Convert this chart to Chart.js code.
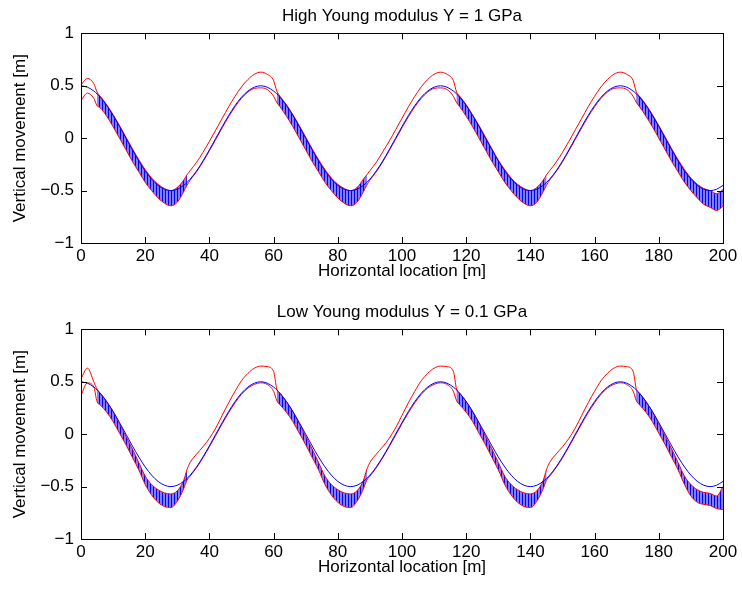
<!DOCTYPE html>
<html>
<head>
<meta charset="utf-8">
<script src="https://cdn.jsdelivr.net/npm/chart.js@4/dist/chart.umd.min.js"></script>
<style>
  body { margin: 0; background: #fff; }
  .panel { position: absolute; left: 0; width: 742px; height: 296px; }
</style>
</head>
<body>
<div class="panel" style="top:0"><canvas id="topChart" width="742" height="296"></canvas></div>
<div class="panel" style="top:296px"><canvas id="lowChart" width="742" height="296"></canvas></div>
<script>
// horizontal location [m]
const xs = [
  0, 2, 4, 5, 6, 8, 10, 12, 14, 16, 18, 20, 22, 24, 26, 28, 30, 32, 33, 34, 36, 38, 40, 42, 44, 46, 48, 50, 52, 54,
  56, 58, 60, 61, 62, 64, 66, 68, 70, 72, 74, 76, 78, 80, 82, 84, 86, 88, 89, 90, 92, 94, 96, 98, 100, 102, 104, 106, 108, 110,
  112, 114, 116, 117, 118, 120, 122, 124, 126, 128, 130, 132, 134, 136, 138, 140, 142, 144, 145, 146, 148, 150, 152, 154, 156, 158, 160, 162, 164, 166,
  168, 170, 172, 173, 174, 176, 178, 180, 182, 184, 186, 188, 190, 192, 194, 196, 198, 200
];

// ground profile (blue), same in both panels
const ground = [
  0.5, 0.487, 0.45, 0.423, 0.391, 0.312, 0.217, 0.111, 0, -0.111, -0.217, -0.312, -0.391, -0.45, -0.487, -0.5, -0.487, -0.45, -0.423, -0.391, -0.312, -0.217, -0.111, 0, 0.111, 0.217, 0.312, 0.391, 0.45, 0.487,
  0.5, 0.487, 0.45, 0.423, 0.391, 0.312, 0.217, 0.111, 0, -0.111, -0.217, -0.312, -0.391, -0.45, -0.487, -0.5, -0.487, -0.45, -0.423, -0.391, -0.312, -0.217, -0.111, 0, 0.111, 0.217, 0.312, 0.391, 0.45, 0.487,
  0.5, 0.487, 0.45, 0.423, 0.391, 0.312, 0.217, 0.111, 0, -0.111, -0.217, -0.312, -0.391, -0.45, -0.487, -0.5, -0.487, -0.45, -0.423, -0.391, -0.312, -0.217, -0.111, 0, 0.111, 0.217, 0.312, 0.391, 0.45, 0.487,
  0.5, 0.487, 0.45, 0.423, 0.391, 0.312, 0.217, 0.111, 0, -0.111, -0.217, -0.312, -0.391, -0.45, -0.487, -0.5, -0.487, -0.45
];

// Y = 1 GPa : upper and lower red curves
const highUpper = [
  0.51, 0.57, 0.52, 0.44, 0.40, 0.32, 0.225, 0.12, 0.01, -0.10, -0.205, -0.30, -0.38, -0.44, -0.48, -0.50, -0.47, -0.40, -0.35, -0.31, -0.23, -0.135, -0.03, 0.08, 0.19, 0.30, 0.40, 0.49, 0.56, 0.61,
  0.63, 0.61, 0.55, 0.45, 0.40, 0.32, 0.225, 0.12, 0.01, -0.10, -0.205, -0.30, -0.38, -0.44, -0.48, -0.50, -0.47, -0.39, -0.35, -0.31, -0.23, -0.13, -0.03, 0.08, 0.19, 0.30, 0.40, 0.49, 0.56, 0.61,
  0.63, 0.61, 0.55, 0.44, 0.40, 0.32, 0.22, 0.12, 0.01, -0.10, -0.21, -0.30, -0.38, -0.44, -0.48, -0.50, -0.47, -0.40, -0.35, -0.31, -0.23, -0.135, -0.03, 0.08, 0.19, 0.30, 0.40, 0.49, 0.56, 0.61,
  0.63, 0.61, 0.55, 0.44, 0.40, 0.32, 0.225, 0.12, 0.01, -0.10, -0.205, -0.30, -0.38, -0.44, -0.48, -0.50, -0.53, -0.49
];
const highLower = [
  0.36, 0.43, 0.38, 0.31, 0.29, 0.21, 0.11, 0.00, -0.11, -0.22, -0.32, -0.42, -0.50, -0.57, -0.62, -0.645, -0.61, -0.51, -0.45, -0.40, -0.32, -0.225, -0.12, -0.01, 0.10, 0.205, 0.30, 0.38, 0.44, 0.475,
  0.48, 0.465, 0.40, 0.34, 0.30, 0.21, 0.11, 0.00, -0.11, -0.22, -0.32, -0.42, -0.50, -0.57, -0.62, -0.645, -0.61, -0.51, -0.45, -0.40, -0.32, -0.225, -0.12, -0.01, 0.10, 0.205, 0.30, 0.38, 0.44, 0.475,
  0.48, 0.465, 0.40, 0.34, 0.30, 0.21, 0.11, 0.00, -0.11, -0.22, -0.32, -0.42, -0.50, -0.57, -0.62, -0.645, -0.61, -0.51, -0.45, -0.40, -0.32, -0.225, -0.12, -0.01, 0.10, 0.205, 0.30, 0.38, 0.44, 0.475,
  0.48, 0.465, 0.40, 0.34, 0.30, 0.21, 0.11, 0.00, -0.11, -0.22, -0.32, -0.42, -0.50, -0.57, -0.63, -0.66, -0.69, -0.65
];

// Y = 0.1 GPa
const lowUpper = [
  0.53, 0.63, 0.50, 0.43, 0.39, 0.31, 0.215, 0.10, -0.02, -0.14, -0.27, -0.40, -0.48, -0.53, -0.56, -0.57, -0.54, -0.44, -0.34, -0.27, -0.19, -0.12, -0.04, 0.06, 0.18, 0.30, 0.41, 0.51, 0.58, 0.63,
  0.65, 0.645, 0.60, 0.43, 0.39, 0.31, 0.215, 0.10, -0.02, -0.14, -0.27, -0.40, -0.48, -0.53, -0.56, -0.57, -0.54, -0.44, -0.34, -0.27, -0.19, -0.12, -0.04, 0.06, 0.18, 0.30, 0.41, 0.51, 0.58, 0.63,
  0.65, 0.645, 0.60, 0.43, 0.39, 0.31, 0.215, 0.10, -0.02, -0.14, -0.27, -0.40, -0.48, -0.53, -0.56, -0.57, -0.54, -0.44, -0.34, -0.27, -0.19, -0.12, -0.04, 0.06, 0.18, 0.30, 0.41, 0.51, 0.58, 0.63,
  0.65, 0.645, 0.60, 0.43, 0.39, 0.31, 0.215, 0.10, -0.02, -0.14, -0.27, -0.40, -0.48, -0.53, -0.555, -0.565, -0.59, -0.50
];
const lowLower = [
  0.37, 0.49, 0.45, 0.31, 0.28, 0.21, 0.12, 0.01, -0.10, -0.22, -0.34, -0.48, -0.58, -0.65, -0.69, -0.70, -0.64, -0.52, -0.44, -0.40, -0.32, -0.225, -0.12, -0.01, 0.10, 0.205, 0.30, 0.38, 0.44, 0.475,
  0.49, 0.475, 0.41, 0.32, 0.28, 0.21, 0.12, 0.01, -0.10, -0.22, -0.34, -0.48, -0.58, -0.65, -0.69, -0.70, -0.64, -0.52, -0.44, -0.40, -0.32, -0.225, -0.12, -0.01, 0.10, 0.205, 0.30, 0.38, 0.44, 0.475,
  0.49, 0.475, 0.41, 0.32, 0.28, 0.21, 0.12, 0.01, -0.10, -0.22, -0.34, -0.48, -0.58, -0.65, -0.69, -0.70, -0.64, -0.52, -0.44, -0.40, -0.32, -0.225, -0.12, -0.01, 0.10, 0.205, 0.30, 0.38, 0.44, 0.475,
  0.49, 0.475, 0.41, 0.32, 0.28, 0.21, 0.12, 0.01, -0.10, -0.22, -0.34, -0.48, -0.59, -0.65, -0.67, -0.68, -0.71, -0.72
];

// x ranges where the contact zone is hatched
const hatchStart = [5, 61, 117, 173];
const hatchEnd = [33, 89, 145, 200];

const xTicks = [0, 20, 40, 60, 80, 100, 120, 140, 160, 180, 200];
const yTicks = [-1, -0.5, 0, 0.5, 1];

const FONT = "'Liberation Sans', Arial, Helvetica, sans-serif";

// hatch: vertical blue lines on light blue
function makeHatch() {
  const c = document.createElement('canvas');
  c.width = 3; c.height = 1;
  const g = c.getContext('2d');
  g.fillStyle = '#8080ff';
  g.fillRect(0, 0, 3, 1);
  g.fillStyle = '#0000ff';
  g.fillRect(0, 0, 1, 1);
  return g.createPattern(c, 'repeat');
}
const hatch = makeHatch();

function inHatch(i0, i1) {
  for (let k = 0; k < hatchStart.length; k++) {
    if (xs[i0] >= hatchStart[k] && xs[i1] <= hatchEnd[k]) return true;
  }
  return false;
}

function pts(arr) {
  return xs.map((x, i) => ({ x: x, y: arr[i] }));
}

// MATLAB style box with inward ticks
const boxPlugin = {
  id: 'box',
  afterDatasetsDraw(chart) {
    const { ctx, chartArea: a, scales: { x, y } } = chart;
    ctx.save();
    ctx.strokeStyle = '#000';
    ctx.lineWidth = 1;
    ctx.beginPath();
    xTicks.forEach(v => {
      const px = Math.round(x.getPixelForValue(v)) + 0.5;
      ctx.moveTo(px, a.bottom); ctx.lineTo(px, a.bottom - 6);
      ctx.moveTo(px, a.top); ctx.lineTo(px, a.top + 6);
    });
    yTicks.forEach(v => {
      const py = Math.round(y.getPixelForValue(v)) + 0.5;
      ctx.moveTo(a.left, py); ctx.lineTo(a.left + 6, py);
      ctx.moveTo(a.right, py); ctx.lineTo(a.right - 6, py);
    });
    ctx.stroke();
    ctx.strokeRect(Math.round(a.left) + 0.5, Math.round(a.top) + 0.5,
      Math.round(a.right - a.left), Math.round(a.bottom - a.top));
    ctx.restore();
  }
};

function makeChart(id, title, upper, lower) {
  return new Chart(document.getElementById(id), {
    type: 'line',
    data: {
      datasets: [
        {
          data: pts(ground),
          borderColor: '#0000ff',
          borderWidth: 1,
          pointRadius: 0,
          fill: false
        },
        {
          data: pts(upper),
          borderColor: '#ff0000',
          borderWidth: 1,
          pointRadius: 0,
          fill: false
        },
        {
          data: pts(lower),
          borderColor: '#ff0000',
          borderWidth: 1,
          pointRadius: 0,
          backgroundColor: 'rgba(0,0,0,0)',
          fill: '-1',
          segment: {
            backgroundColor: c => inHatch(c.p0DataIndex, c.p1DataIndex) ? hatch : 'rgba(0,0,0,0)'
          }
        }
      ]
    },
    options: {
      responsive: false,
      animation: false,
      cubicInterpolationMode: 'monotone',
      layout: { padding: { left: 0, right: 19, top: 0, bottom: 0 } },
      plugins: {
        legend: { display: false },
        tooltip: { enabled: false },
        filler: { drawTime: 'beforeDatasetsDraw' },
        title: {
          display: true,
          fullSize: false,
          text: title,
          color: '#000',
          font: { family: FONT, size: 17, weight: 'normal' },
          padding: { top: 6, bottom: 7 }
        }
      },
      scales: {
        x: {
          type: 'linear',
          min: 0,
          max: 200,
          afterBuildTicks: s => { s.ticks = xTicks.map(v => ({ value: v })); },
          afterFit: s => { s.height = 53; },
          grid: { display: false, drawTicks: false },
          border: { display: false },
          ticks: { color: '#000', padding: 3, maxRotation: 0, font: { family: FONT, size: 17 } },
          title: {
            display: true,
            text: 'Horizontal location [m]',
            color: '#000',
            font: { family: FONT, size: 17 },
            padding: { top: 0, bottom: 14 }
          }
        },
        y: {
          min: -1,
          max: 1,
          afterBuildTicks: s => { s.ticks = yTicks.map(v => ({ value: v })); },
          afterFit: s => { s.width = 81; },
          grid: { display: false, drawTicks: false },
          border: { display: false },
          ticks: {
            color: '#000',
            padding: 7,
            font: { family: FONT, size: 17 },
            callback: v => v < 0 ? '\u2212' + Math.abs(v) : String(v)
          },
          title: {
            display: true,
            text: 'Vertical movement [m]',
            color: '#000',
            font: { family: FONT, size: 17 },
            padding: { top: 10, bottom: 0 }
          }
        }
      }
    },
    plugins: [boxPlugin]
  });
}

makeChart('topChart', 'High Young modulus Y = 1 GPa', highUpper, highLower);
makeChart('lowChart', 'Low Young modulus Y = 0.1 GPa', lowUpper, lowLower);
</script>
</body>
</html>
